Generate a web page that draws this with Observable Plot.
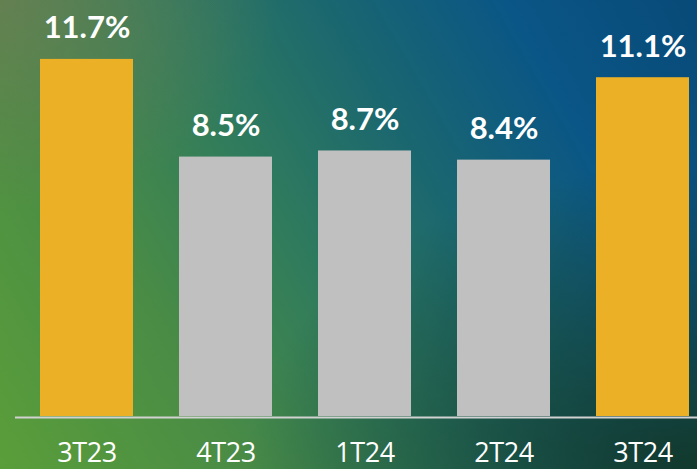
<!DOCTYPE html>
<html>
<head>
<meta charset="utf-8">
<script src="https://cdn.jsdelivr.net/npm/d3@7"></script>
<script src="https://cdn.jsdelivr.net/npm/@observablehq/plot@0.6"></script>
<style>
  html, body { margin: 0; padding: 0; }
  #chart svg { display: block; }
  .ticks text { letter-spacing: -0.4px; }
</style>
</head>
<body>
<div id="chart"></div>
<script>
const categories = ["3T23", "4T23", "1T24", "2T24", "3T24"];
const values = [11.7, 8.5, 8.7, 8.4, 11.1];
const highlighted = [true, false, false, false, true];
const labels = ["11.7%", "8.5%", "8.7%", "8.4%", "11.1%"];

const data = categories.map((c, i) => ({cat: c, value: values[i], hi: highlighted[i], label: labels[i]}));

const bg = [
  "radial-gradient(ellipse 40% 45% at 0% 0%, rgba(110,125,85,0.75), rgba(110,125,85,0))",
  "radial-gradient(ellipse 65% 65% at 100% 100%, rgba(18,55,40,0.95), rgba(18,55,40,0))",
  "linear-gradient(60deg, #5a9e3a 0%, #4a8c45 25%, #2e7a5e 45%, #1a6670 62%, #0a5686 80%, #084a78 100%)"
].join(",");

const chart = Plot.plot({
  width: 697,
  height: 469,
  marginLeft: 15,
  marginRight: 0,
  marginTop: 0,
  marginBottom: 53,
  style: {background: bg, color: "white", fontFamily: "Lato, 'Open Sans', sans-serif"},
  x: {domain: categories, range: [16, 712], paddingInner: 0.332, paddingOuter: 0.166, label: null},
  y: {domain: [0, 13.63], axis: null},
  marks: [
    Plot.barY(data, {x: "cat", y: "value", fill: d => d.hi ? "#EBB025" : "#C0C0C0"}),
    Plot.ruleY([0], {stroke: "#d2d2d2", strokeWidth: 2, dy: 1}),
    Plot.text(data, {x: "cat", y: "value", text: "label", dy: -21, lineAnchor: "bottom", fill: "white", fontSize: 31, fontWeight: "bold", fontFamily: "Lato"}),
    Plot.axisX({tickSize: 0, tickPadding: 26, fontSize: 27, fontFamily: "'Open Sans'", color: "white", className: "ticks"})
  ]
});
document.getElementById("chart").appendChild(chart);
</script>
</body>
</html>
